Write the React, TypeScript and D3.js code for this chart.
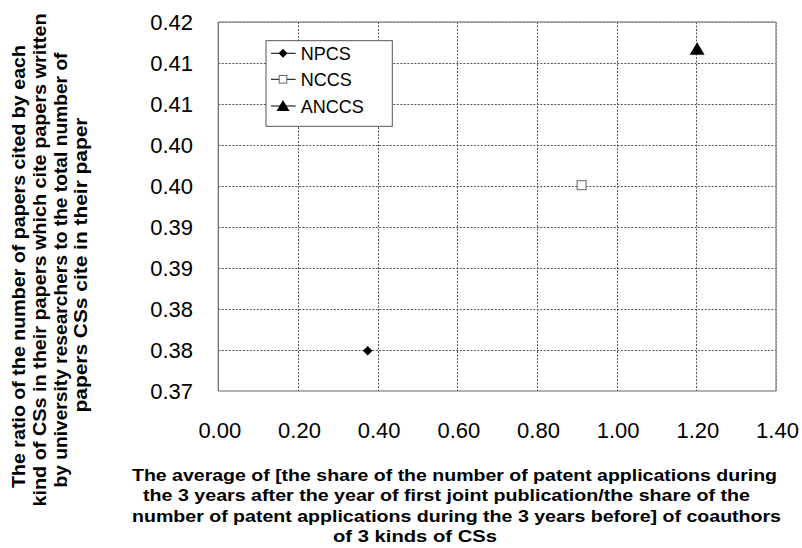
import React from "react";
import * as d3 from "d3";

const seriesNames = ["NPCS", "NCCS", "ANCCS"];
const xValues = [0.375, 0.912, 1.202];
const yValues = [0.3749, 0.3951, 0.4117];

const xTickValues = [0, 0.2, 0.4, 0.6, 0.8, 1.0, 1.2, 1.4];
const xTickLabels = ["0.00", "0.20", "0.40", "0.60", "0.80", "1.00", "1.20", "1.40"];
const yTickValues = [0.37, 0.375, 0.38, 0.385, 0.39, 0.395, 0.4, 0.405, 0.41, 0.415];
const yTickLabels = ["0.37", "0.38", "0.38", "0.39", "0.39", "0.40", "0.40", "0.41", "0.41", "0.42"];

const xTitleLines = [
  "The average of [the share of the number of patent applications during",
  "the 3 years after the year of first joint publication/the share of the",
  "number of patent applications during the 3 years before] of coauthors",
  "of 3 kinds of CSs",
];
const yTitleLines = [
  "The ratio of the number of papers cited by each",
  "kind of CSs in their papers which cite papers written",
  "by university researchers to the total number of",
  "papers CSs cite in their paper",
];

const W = 802;
const H = 548;
const L = 218.3, R = 776, T = 22, B = 391;
const FONT = "'Liberation Sans', Arial, Helvetica, sans-serif";

function Marker({ kind, cx, cy, legend }: { kind: number; cx: number; cy: number; legend?: boolean }) {
  if (kind === 0) {
    const s = legend ? 4.5 : 4.8;
    return <path d={`M${cx},${cy - s}L${cx + s},${cy}L${cx},${cy + s}L${cx - s},${cy}Z`} fill="#000" />;
  }
  if (kind === 1) {
    const s = legend ? 3.8 : 4.5;
    return <rect x={cx - s} y={cy - s} width={2 * s} height={2 * s} fill="#fff" stroke="#666" strokeWidth={1} />;
  }
  const w = legend ? 6.5 : 7.5;
  const h = legend ? 10 : 11.5;
  return <path d={`M${cx},${cy - h / 2 - 1}L${cx + w},${cy + h / 2}L${cx - w},${cy + h / 2}Z`} fill="#000" />;
}

export default function App() {
  const x = d3.scaleLinear().domain([0, 1.4]).range([L, R]);
  const y = d3.scaleLinear().domain([0.37, 0.415]).range([B, T]);

  const xTitleStarts = [132, 143, 132, 333];
  const xTitleLengths = [645, 607, 649, 164];
  const yTitleX = [25, 46, 66.5, 87];
  const yTitleCenters = [266.5, 260, 270, 265];
  const yTitleLengths = [443, 493, 435, 295];

  return (
    <svg width={W} height={H} style={{ position: "absolute", left: 0, top: 0, background: "#fff" }} fontFamily={FONT}>
      <rect x={0} y={0} width={W} height={H} fill="#fff" />
      {/* gridlines */}
      {yTickValues.slice(1).map((v, i) => (
        <line key={"gy" + i} x1={L} x2={R} y1={Math.round(y(v)) + 0.5} y2={Math.round(y(v)) + 0.5}
          stroke="#555" strokeWidth={1} strokeDasharray="2,1.5" />
      ))}
      {xTickValues.slice(1).map((v, i) => (
        <line key={"gx" + i} x1={Math.round(x(v)) + 0.5} x2={Math.round(x(v)) + 0.5} y1={T} y2={B}
          stroke="#555" strokeWidth={1} strokeDasharray="2,1.5" />
      ))}
      {/* plot border */}
      <line x1={L} x2={R} y1={T} y2={T} stroke="#999" strokeWidth={1.5} />
      <line x1={R} x2={R} y1={T} y2={B} stroke="#999" strokeWidth={1.5} />
      <line x1={L} x2={L} y1={T} y2={B} stroke="#666" strokeWidth={1.2} />
      <line x1={L} x2={R} y1={B} y2={B} stroke="#666" strokeWidth={1.2} />

      {/* y tick labels */}
      {yTickValues.map((v, i) => (
        <text key={"yl" + i} x={193} y={y(v)} dy="0.36em" textAnchor="end" fontSize={22} fill="#000">
          {yTickLabels[i]}
        </text>
      ))}
      {/* x tick labels */}
      {xTickValues.map((v, i) => (
        <text key={"xl" + i} x={x(v) + 1.5} y={438.3} textAnchor="middle" fontSize={22} fill="#000">
          {xTickLabels[i]}
        </text>
      ))}

      {/* points */}
      {seriesNames.map((n, i) => (
        <Marker key={n} kind={i} cx={x(xValues[i])} cy={y(yValues[i])} />
      ))}

      {/* legend */}
      <rect x={266} y={40.7} width={126.3} height={85.6} fill="#fff" stroke="#555" strokeWidth={1} />
      {seriesNames.map((n, i) => {
        const cy = [53.3, 79.3, 106][i];
        return (
          <g key={"lg" + n}>
            <line x1={271} x2={295.7} y1={cy} y2={cy} stroke="#000" strokeWidth={1} />
            <Marker kind={i} cx={283} cy={cy} legend />
            <text x={300.7} y={cy + 6.5} fontSize={18} fill="#000">{n}</text>
          </g>
        );
      })}

      {/* x title */}
      {xTitleLines.map((t, i) => (
        <text key={"xt" + i} x={xTitleStarts[i]} y={481 + i * 20.3} fontSize={17} fontWeight="bold" fill="#000"
          textLength={xTitleLengths[i]} lengthAdjust="spacingAndGlyphs">
          {t}
        </text>
      ))}
      {/* y title */}
      {yTitleLines.map((t, i) => (
        <text key={"yt" + i} transform={`translate(${yTitleX[i]},${yTitleCenters[i]}) rotate(-90)`}
          textAnchor="middle" fontSize={17.5} fontWeight="bold" fill="#000"
          textLength={yTitleLengths[i]} lengthAdjust="spacingAndGlyphs">
          {t}
        </text>
      ))}
    </svg>
  );
}
